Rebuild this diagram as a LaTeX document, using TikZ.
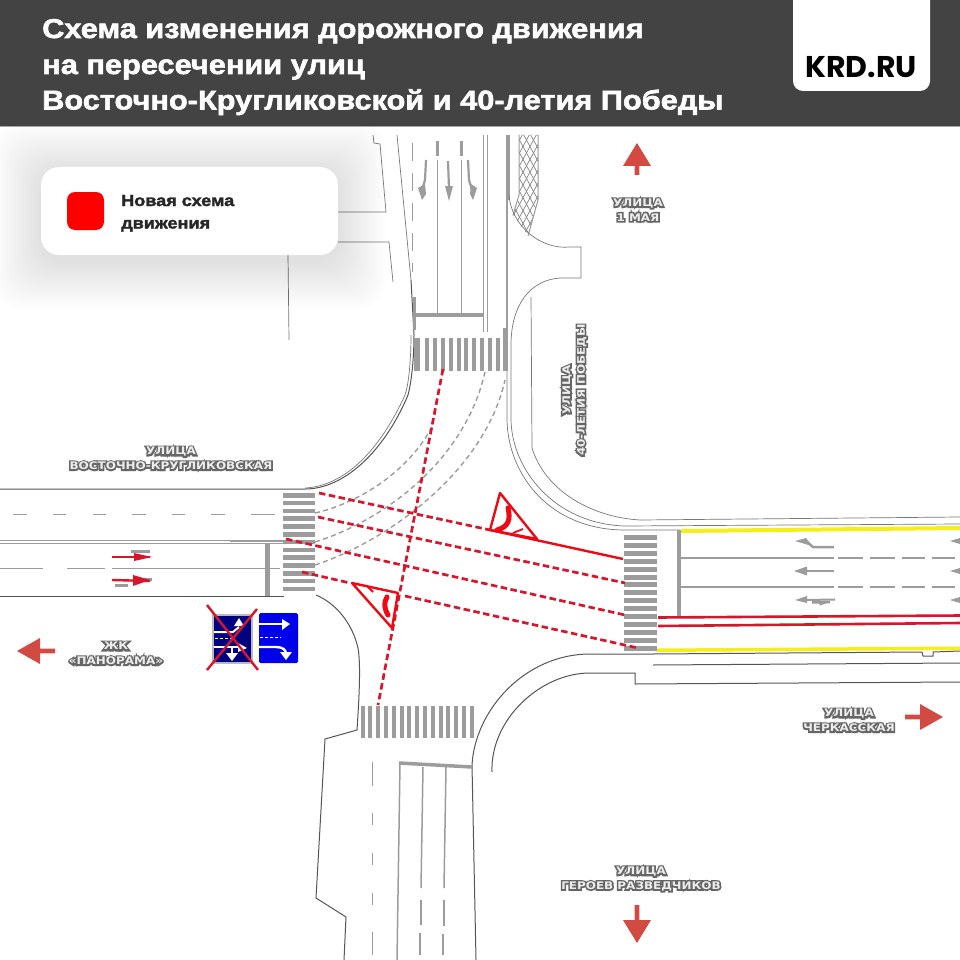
\documentclass[tikz,border=0pt]{standalone}
\usepackage{fontspec}
\setmainfont{Liberation Sans}
\newfontfamily\titlef[FakeStretch=1.13,BoldFeatures={FakeBold=2}]{Liberation Sans}
\newfontfamily\logof{Poppins}
\newfontfamily\labf[FakeStretch=1.14]{DejaVu Sans Bold}
\newfontfamily\haloF[FakeStretch=1.14,FakeBold=30]{DejaVu Sans Bold}
\definecolor{hdr}{HTML}{434343}
\definecolor{kerb}{HTML}{555555}
\definecolor{mrk}{HTML}{9C9C9C}
\definecolor{rline}{HTML}{D7152B}
\definecolor{rsol}{HTML}{EE0A14}
\definecolor{yel}{HTML}{F4EE1A}
\definecolor{dirr}{HTML}{D24A41}
\definecolor{halo}{HTML}{666666}
\newcommand{\hl}[1]{\rlap{\color{halo}\haloF #1}{\color{white!93!black}\labf #1}}
\tikzset{
 kerbl/.style={draw=kerb,line width=1pt},
 thinl/.style={draw=kerb!80,line width=.7pt},
 markl/.style={draw=mrk,line width=1.5pt},
 stopl/.style={draw=mrk,line width=4pt},
 rdash/.style={draw=rline,line width=2.7pt,dash pattern=on 6.5pt off 3.5pt},
 gdash/.style={draw=mrk,line width=1.4pt,dash pattern=on 5pt off 3.5pt},
 rsolid/.style={draw=rsol,line width=2.4pt,line join=round},
 stripe/.style={fill=mrk},
 dirfill/.style={fill=dirr},
 streetlab/.style={align=center,inner sep=0pt,font=\fontsize{10.5}{14.6}\selectfont},
 titletxt/.style={anchor=base west,inner sep=0pt,text=white,font=\titlef\fontsize{27.2}{32}\selectfont\bfseries},
 legtxt/.style={anchor=base west,inner sep=0pt,text=black!85,font=\titlef\fontsize{16}{22}\selectfont\bfseries},
}
\begin{document}
\begin{tikzpicture}[x=1pt,y=-1pt]
\useasboundingbox (0,0) rectangle (960,960);
\fill[white] (0,0) rectangle (960,960);
% road edges
\draw[kerbl] (0,489) -- (305,489) .. controls (345,489) and (385,450) .. (408,395) .. controls (412,380) and (414,355) .. (414,335) -- (411,280);
\draw[thinl] (397,135) -- (411,280);
\draw[thinl] (305,488) .. controls (345,486) and (380,450) .. (405,395) .. controls (410,380) and (411,350) .. (411,335);
\draw[kerbl] (0,596) -- (284,596);
\draw[kerbl] (316,595) .. controls (335,603) and (352,622) .. (358,648) .. controls (361,665) and (359,700) .. (357,730) -- (325,739) -- (316,898) -- (346,917) -- (344,960);
% north-west buildings
\draw[thinl] (373,135) -- (374,143) -- (380,144) -- (386,212) -- (338,212);
\draw[thinl] (338,242) -- (389,242) -- (393,282);
\draw[thinl] (288,255) -- (289,340);
% north road
\draw[draw=mrk,line width=1pt,dash pattern=on 18pt off 12pt] (412,143) -- (412,272);
\draw[draw=mrk,line width=3pt] (437,141) -- (437,156);
\draw[draw=mrk,line width=3pt] (461,141) -- (461,156);
\draw[draw=mrk,line width=1pt] (437,160) -- (437,314);
\draw[draw=mrk,line width=1pt] (461,160) -- (461,314);
\draw[draw=mrk,line width=1pt] (483,135) -- (483,332);
\draw[draw=mrk,line width=1pt] (487,135) -- (487,332);
\draw[stopl] (415,315) -- (484,315);
\draw[draw=mrk,line width=3pt] (414,297) -- (414,330);
\draw[draw=mrk,line width=4.5pt] (508,135) -- (508,200);
\draw[draw=mrk,line width=1.2pt] (507,200) -- (507,338);
% hatch island
\begin{scope}
\clip (519,135) -- (519,195) -- (513,215) -- (528,236) -- (538,200) -- (538,135) -- cycle;
\foreach \k in {-6,...,16}{
 \draw[draw=mrk!85!black,line width=.7pt] (500+\k*7,130) -- (560+\k*7,240);
 \draw[draw=mrk!85!black,line width=.7pt] (560-\k*7,130) -- (500-\k*7,240);
}
\end{scope}
\draw[draw=mrk,line width=1pt] (519,135) -- (519,195) -- (513,215);
\draw[draw=mrk,line width=1pt] (538,135) -- (538,200) -- (528,236);
% north-east corner
\draw[thinl] (509,195) .. controls (511,225) and (540,250) .. (570,247) -- (581,247) -- (581,278) -- (560,278) .. controls (530,280) and (511,305) .. (511,345) -- (511,420) .. controls (512,470) and (555,524) .. (625,526) -- (960,524);
\draw[thinl] (507,345) -- (507,420) .. controls (508,475) and (550,530) .. (625,530) -- (680,530);
\draw[thinl] (531,297) -- (532,448) .. controls (545,490) and (590,517) .. (640,520) -- (960,517);
% south-east corner
\draw[kerbl] (476,960) -- (472,765) .. controls (475,710) and (525,654) .. (590,654) -- (653,654) -- (922,652) -- (923,656) -- (933,656) -- (933,652) -- (960,651);
\draw[kerbl] (492,772) .. controls (490,720) and (540,673) .. (590,673) -- (635,673) -- (635,684) -- (960,682);
\draw[kerbl] (653,665) -- (960,663);
% south road
\draw[stopl,line width=3.5pt] (399,763) -- (472,767);
\draw[draw=mrk,line width=1.5pt] (400,763) -- (397,960);
\draw[draw=mrk,line width=1.5pt] (423,767) -- (421,888);
\draw[draw=mrk,line width=1.5pt] (446,767) -- (444,888);
\foreach \x/\a/\b in {421/900/925,420/933/955,444/900/926,443/934/955}{\draw[draw=mrk,line width=1.5pt] (\x,\a) -- (\x,\b);}
\foreach \a/\b in {762/786,813/825,853/865,893/905,932/955}{\draw[draw=mrk,line width=1pt] (372,\a) -- (372,\b);}
% west road
\foreach \a/\b in {13/27,53/66,93/106,132/146,172/185,211/225,251/275}{\draw[draw=mrk,line width=1pt] (\a,514) -- (\b,514);}
\draw[draw=mrk,line width=1pt] (0,540) -- (285,540);
\draw[draw=mrk,line width=1pt] (0,543) -- (285,543);
\draw[draw=mrk,line width=2pt] (230,541) -- (285,541);
\foreach \a/\b in {0/43,67/105,112/280}{\draw[draw=mrk,line width=1pt] (\a,568) -- (\b,568);}
\draw[draw=mrk,line width=5pt] (267,543) -- (267,596);
\draw[draw=mrk,line width=3pt] (131,551) -- (150,551);
\draw[draw=mrk,line width=3pt] (133,579) -- (152,579);
\draw[draw=mrk,line width=3pt] (115,585) -- (128,585);
\draw[rline,line width=2.4pt] (112,557) -- (150,557);
\fill[rline] (152,557) -- (134,553) -- (134,561) -- cycle;
\draw[rline,line width=2.4pt] (112,580) -- (150,581);
\fill[rline] (150,580) -- (133,575) -- (133,586) -- cycle;
% crosswalks
\foreach \i in {0,...,12}{\fill[stripe] (283,493+\i*7.8) rectangle (315,497.5+\i*7.8);}
\foreach \i in {0,...,14}{\fill[stripe] (624,535+\i*7.9) rectangle (657,540+\i*7.9);}
\foreach \i in {0,...,14}{\fill[stripe] (360.5+\i*7.8,706) rectangle (364.5+\i*7.8,738);}
\foreach \i in {1,...,10}{\fill[stripe] (417+\i*7.9,338) rectangle (421+\i*7.9,371);}
\fill[stripe] (414,338) rectangle (420,371);
\fill[stripe] (503,328) rectangle (508,371);
% east road
\draw[draw=mrk,line width=4pt] (679,530) -- (679,617);
\fill[yel] (681,529) -- (960,526) -- (960,530) -- (681,533) -- cycle;
\fill[yel] (657,648.5) -- (960,646.5) -- (960,650) -- (657,652) -- cycle;
\foreach \y in {558,587}{
 \draw[draw=mrk,line width=1.5pt] (681,\y) -- (834,\y);
 \foreach \a/\b in {838/863,870/895,902/925,932/955}{\draw[draw=mrk,line width=2pt] (\a,\y-.5) -- (\b,\y-.5);}
}
\draw[draw=mrk,line width=2.5pt] (834,571) -- (804,571);
\fill[mrk] (794,571) -- (807,566.5) -- (807,575.5) -- cycle;
\draw[draw=mrk,line width=2.5pt] (834,547) -- (813,547) -- (807,542) -- (802,541);
\fill[mrk] (795,541) -- (806,538) -- (812,546) -- cycle;
\draw[draw=mrk,line width=2pt] (835,599.5) -- (805,600);
\fill[mrk] (795,600) -- (807,596) -- (807,603) -- cycle;
\draw[draw=mrk,line width=2.5pt] (812,602.5) -- (830,602);
\fill[mrk] (818,601) -- (830,602) -- (820,605.5) -- cycle;
\foreach \y in {541,571,600}{\fill[mrk] (950,\y) -- (960,\y-3) -- (960,\y+3) -- cycle;}
% north arrows
\draw[draw=mrk,line width=2.2pt] (426,160) -- (425,180) -- (422,190);
\fill[mrk] (422,200) -- (418,188) -- (425,184) -- (426,194) -- cycle;
\draw[draw=mrk,line width=2.2pt] (448,161) -- (449,188);
\fill[mrk] (449,201) -- (445,186) -- (453,186) -- cycle;
\draw[draw=mrk,line width=2.2pt] (468,160) -- (469,180) -- (472,190);
\fill[mrk] (473,200) -- (477,188) -- (471,184) -- (470,194) -- cycle;
% gray turn paths
\draw[gdash] (315,513) .. controls (360,503) and (410,470) .. (433,425);
\draw[gdash] (315,542) .. controls (385,520) and (465,460) .. (485,372);
\draw[gdash] (315,565) .. controls (390,540) and (485,470) .. (505,380);
% red lines
\draw[rdash] (319,493) -- (490,530);
\draw[rsolid] (490,530) -- (623,559);
\draw[rdash] (318,517) -- (625,583);
\draw[rdash] (286,539) -- (625,615);
\draw[rdash] (302,572) -- (350,583);
\draw[rdash] (405,596) -- (638,648);
\draw[rdash] (443,369) -- (378,705);
\draw[draw=rline,line width=2.6pt] (658,617.5) -- (960,615.5);
\draw[draw=rline,line width=2.6pt] (658,626) -- (960,623);
% triangles
\draw[rsolid] (490,530) -- (500,493) -- (537,539) -- cycle;
\draw[rsol,line width=5pt,line cap=round] (508,508) .. controls (511,520) and (508,527) .. (497,530);
\draw[rsol,line width=1.8pt] (513,533) -- (523,529);
\draw[rsolid] (352,583) -- (398,593) -- (392,628) -- cycle;
\draw[rsol,line width=5pt,line cap=round] (387,597) .. controls (383,603) and (385,610) .. (388,615);
\draw[rsol,line width=1.8pt] (367,586) -- (373,592);
% direction arrows
\fill[dirfill] (637,143) -- (651,166) -- (639.3,166) -- (639.3,175) -- (634.7,175) -- (634.7,166) -- (623,166) -- cycle;
\fill[dirfill] (17,651) -- (40,638) -- (40,648.7) -- (55,648.7) -- (55,653.3) -- (40,653.3) -- (40,664) -- cycle;
\fill[dirfill] (943,717) -- (920,704) -- (920,714.7) -- (905,714.7) -- (905,719.3) -- (920,719.3) -- (920,730) -- cycle;
\fill[dirfill] (637,943) -- (651,920) -- (639.3,920) -- (639.3,905) -- (634.7,905) -- (634.7,920) -- (623,920) -- cycle;
% signs
\fill[fill=mrk!70] (212,614) rectangle (253,664);
\fill[fill=blue!45!black!90!blue] (214,616) rectangle (251,662);
\fill[white] (239,618) -- (244,626) -- (234,626) -- cycle;
\draw[white,line width=2pt] (214,632) -- (233,632) -- (239,627);
\draw[white,line width=1pt,dash pattern=on 3pt off 2pt] (215,638) -- (232,638);
\draw[white,line width=2pt] (214,647) -- (240,647);
\fill[white] (247,648) -- (238,643) -- (238,652) -- cycle;
\draw[white,line width=2pt] (232,647) -- (232,654);
\fill[white] (232,661) -- (226,653) -- (238,653) -- cycle;
\fill[fill=blue!92!black,rounded corners=1.5pt] (259,613) rectangle (298,663);
\draw[white,line width=2.4pt] (259,624) -- (283,624);
\fill[white] (290,624) -- (282,619) -- (282,630) -- cycle;
\draw[white,line width=1pt,dash pattern=on 3pt off 2pt] (260,637) -- (281,637);
\draw[white,line width=2.4pt] (259,647) -- (276,647) .. controls (283,647) and (286,650) .. (286,654);
\fill[white] (286,660) -- (280,652) -- (292,652) -- cycle;
\draw[rline,line width=2.4pt] (207,605) -- (258,670);
\draw[rline,line width=2.4pt] (207,670) -- (257,609);
% legend
\foreach \i in {1,...,30}{\fill[black,opacity=.0025,rounded corners=24pt] (41-\i*1.6,167+4-\i*1.6) rectangle (338+\i*1.6,255+6+\i*1.6);}
\node[fill=white,rounded corners=18pt,minimum width=297pt,minimum height=88pt,inner sep=0pt] (legend) at (189.5,211) {};
\node[fill=red,rounded corners=8pt,minimum width=37pt,minimum height=38pt,inner sep=0pt] (legendkey) at (85.5,211) {};
\node[legtxt] (legtxtA) at (121,206) {Новая схема};
\node[legtxt] (legtxtB) at (121,228.5) {движения};
% header
\fill[hdr] (0,0) rectangle (960,126);
\draw[black!35,line width=.7pt] (0,126.3) -- (960,126.3);
\node[titletxt] (titleA) at (42,38) {Схема изменения дорожного движения};
\node[titletxt] (titleB) at (42,74) {на пересечении улиц};
\node[titletxt] (titleC) at (42,109.5) {Восточно-Кругликовской и 40-летия Победы};
\path[fill=white,rounded corners=10pt] (793,-20) rectangle (930,91);
\node[anchor=base,inner sep=0pt,text=black,font=\fontsize{30}{32}\logof\selectfont\bfseries] (logo) at (861,78) {KRD.RU};
% street labels
\node[streetlab] (lbA) at (171,458.5) {\hl{УЛИЦА}\\\hl{ВОСТОЧНО-КРУГЛИКОВСКАЯ}};
\node[streetlab] (lbB) at (116,653.5) {\hl{ЖК}\\\hl{«ПАНОРАМА»}};
\node[streetlab] (lbC) at (638,210) {\hl{УЛИЦА}\\\hl{1 МАЯ}};
\node[streetlab,rotate=90] (lbD) at (574.5,390) {\hl{УЛИЦА}\\\hl{40-ЛЕТИЯ ПОБЕДЫ}};
\node[streetlab] (lbE) at (849,720.5) {\hl{УЛИЦА}\\\hl{ЧЕРКАССКАЯ}};
\node[streetlab] (lbF) at (641,879) {\hl{УЛИЦА}\\\hl{ГЕРОЕВ РАЗВЕДЧИКОВ}};
\end{tikzpicture}
\end{document}
